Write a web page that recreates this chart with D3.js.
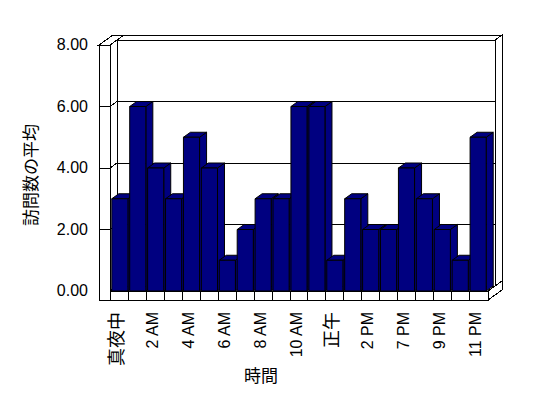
<!DOCTYPE html>
<html>
<head>
<meta charset="utf-8">
<script src="https://cdn.jsdelivr.net/npm/d3@7"></script>
<style>
  body { margin: 0; background: #fff; }
  svg { display: block; }
  text { font-family: "Liberation Sans", Arial, "Noto Sans CJK JP", sans-serif; fill: #000; }
</style>
</head>
<body>
<svg id="chart" width="548" height="398"></svg>
<script>
// hours of the day (only every other one gets a label)
const categories = [
  "真夜中", "1 AM", "2 AM", "3 AM", "4 AM", "5 AM", "6 AM", "7 AM", "8 AM", "9 AM",
  "10 AM", "11 AM", "正午", "1 PM", "2 PM", "3 PM", "7 PM", "8 PM", "9 PM", "10 PM", "11 PM"
];
const visits = [3, 6, 4, 3, 5, 4, 1, 2, 3, 3, 6, 6, 1, 3, 2, 2, 4, 3, 2, 1, 5];
const tickLabels = ["真夜中", "2 AM", "4 AM", "6 AM", "8 AM", "10 AM", "正午", "2 PM", "7 PM", "9 PM", "11 PM"];
const yTicks = [0, 2, 4, 6, 8];

const yTitle = "訪問数の平均";
const xTitle = "時間";

const svg = d3.select("#chart");

// oblique depth step (one bar deep)
const DX = 7, DY = -5;
const wallLeft = 99, floorBottom = 300;

const x = d3.scaleBand().domain(categories).range([110, 488]).padding(0.1);
const y = d3.scaleLinear().domain([0, 8]).range([291, 45]);

const x0 = x.range()[0], x1 = x.range()[1];
const yTop = y(8), yBase = y(0);

const pts = (arr) => arr.map((p) => p.join(",")).join(" ");
const frame = svg.append("g")
  .attr("fill", "#fff")
  .attr("stroke", "#000")
  .attr("shape-rendering", "crispEdges");

// back wall (a slab one step thick)
frame.append("polygon").attr("points", pts([
  [x0 + DX, yTop + DY], [x1 + DX, yTop + DY], [x1 + DX, yBase + DY], [x0 + DX, yBase + DY]
]));
frame.append("polygon").attr("points", pts([
  [x0 + DX, yTop + DY], [x1 + DX, yTop + DY], [x1 + 2 * DX, yTop + 2 * DY], [x0 + 2 * DX, yTop + 2 * DY]
]));
frame.append("polygon").attr("points", pts([
  [x1 + DX, yTop + DY], [x1 + 2 * DX, yTop + 2 * DY], [x1 + 2 * DX, floorBottom + 2 * DY], [x1 + DX, floorBottom + DY]
]));
// floor right side
frame.append("polygon").attr("points", pts([
  [x1, yBase], [x1, floorBottom], [x1 + 2 * DX, floorBottom + 2 * DY], [x1 + 2 * DX, yBase + 2 * DY]
]));
// left wall: inner face, top, front
frame.append("polygon").attr("points", pts([
  [x0, yTop], [x0 + DX, yTop + DY], [x0 + DX, yBase + DY], [x0, yBase]
]));
frame.append("polygon").attr("points", pts([
  [wallLeft, yTop], [x0, yTop], [x0 + 2 * DX, yTop + 2 * DY], [wallLeft + 2 * DX, yTop + 2 * DY]
]));
frame.append("rect")
  .attr("x", wallLeft).attr("y", yTop)
  .attr("width", x0 - wallLeft).attr("height", floorBottom - yTop);
// floor front
frame.append("rect")
  .attr("x", x0).attr("y", yBase)
  .attr("width", x1 - x0).attr("height", floorBottom - yBase);

// gridlines across left wall and back wall
const grid = svg.append("g").attr("stroke", "#000").attr("fill", "none")
  .attr("shape-rendering", "crispEdges");
yTicks.filter((v) => v > 0 && v < 8).forEach((v) => {
  grid.append("line").attr("x1", wallLeft).attr("x2", x0).attr("y1", y(v)).attr("y2", y(v));
  grid.append("line").attr("x1", x0).attr("x2", x0 + DX).attr("y1", y(v)).attr("y2", y(v) + DY);
  grid.append("line").attr("x1", x0 + DX).attr("x2", x1 + DX).attr("y1", y(v) + DY).attr("y2", y(v) + DY);
});

// tick marks on floor front
const gap = x.step() * x.paddingInner() / 2;
grid.selectAll(".tick")
  .data(categories.slice(1))
  .enter()
  .append("line")
  .attr("x1", (d) => x(d) - gap)
  .attr("x2", (d) => x(d) - gap)
  .attr("y1", yBase)
  .attr("y2", floorBottom);

// bars, left to right so each front hides the previous side face
const bars = svg.append("g").attr("fill", "#000080").attr("stroke", "#000")
  .attr("stroke-linejoin", "round");
categories.forEach((c, i) => {
  const bx = x(c), bw = x.bandwidth(), by = y(visits[i]);
  bars.append("polygon").attr("points", pts([
    [bx + bw, by], [bx + bw + DX, by + DY], [bx + bw + DX, yBase + DY], [bx + bw, yBase]
  ]));
  bars.append("polygon").attr("points", pts([
    [bx, by], [bx + bw, by], [bx + bw + DX, by + DY], [bx + DX, by + DY]
  ]));
  bars.append("rect")
    .attr("x", bx).attr("y", by)
    .attr("width", bw).attr("height", yBase - by);
});

// y axis labels
svg.append("g")
  .selectAll("text")
  .data(yTicks)
  .enter()
  .append("text")
  .attr("x", 88)
  .attr("y", (d) => y(d) + 1)
  .attr("text-anchor", "end")
  .attr("dominant-baseline", "middle")
  .style("font-size", "16px")
  .text((d) => d.toFixed(2));

// x axis labels, rotated
const isCJK = (s) => /[^\x00-\x7F]/.test(s);
svg.append("g")
  .selectAll("text")
  .data(tickLabels)
  .enter()
  .append("text")
  .attr("transform", (d) => `translate(${x(d) + x.bandwidth() / 2 - 3},312) rotate(-90)`)
  .attr("text-anchor", "end")
  .attr("dominant-baseline", "central")
  .style("font-size", (d) => (isCJK(d) ? "18px" : "16px"))
  .text((d) => d);

svg.append("text")
  .attr("transform", "translate(31,175) rotate(-90)")
  .attr("text-anchor", "middle")
  .attr("dominant-baseline", "central")
  .style("font-size", "17px")
  .text(yTitle);

svg.append("text")
  .attr("x", 261)
  .attr("y", 376)
  .attr("text-anchor", "middle")
  .attr("dominant-baseline", "central")
  .style("font-size", "17px")
  .text(xTitle);
</script>
</body>
</html>
